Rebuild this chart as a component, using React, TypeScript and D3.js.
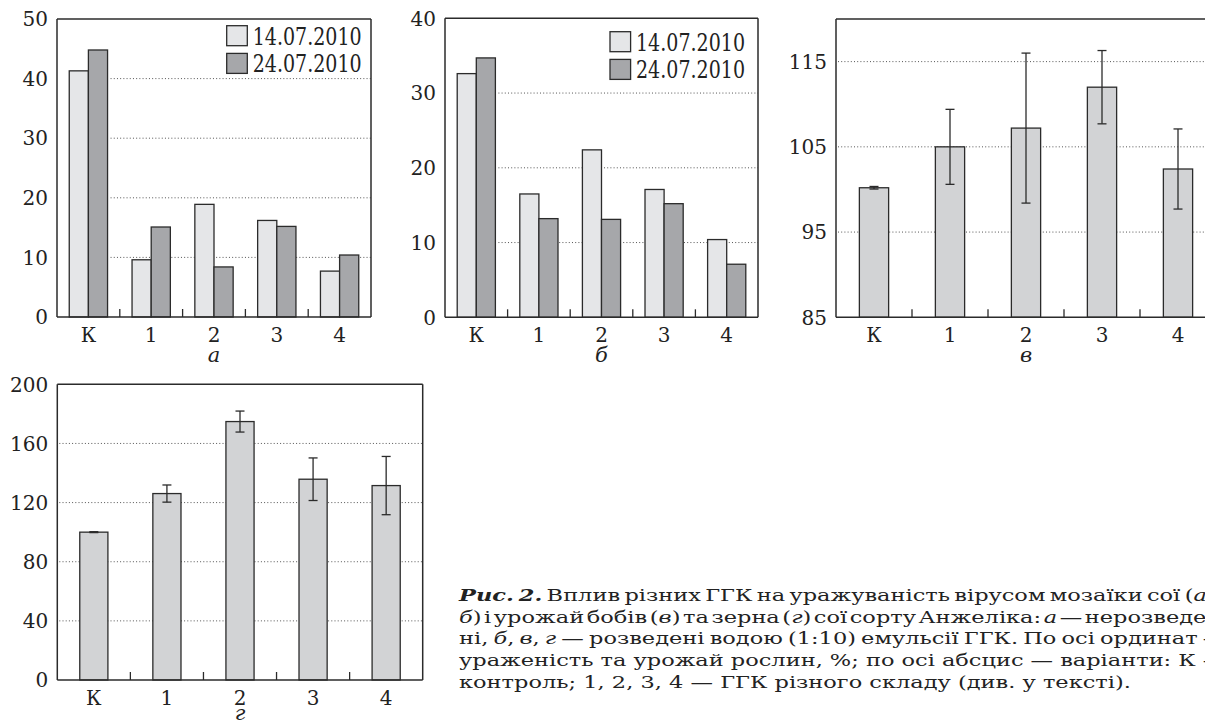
import React, { useLayoutEffect, useRef } from 'react';
import * as d3 from 'd3';

const categories = ['К', '1', '2', '3', '4'];
const legendLabels = ['14.07.2010', '24.07.2010'];

// panel а
const aFirst = [41.3, 9.6, 18.9, 16.2, 7.7];
const aSecond = [44.8, 15.1, 8.4, 15.2, 10.4];
const aTicks = [0, 10, 20, 30, 40, 50];
// panel б
const bFirst = [32.6, 16.5, 22.4, 17.1, 10.4];
const bSecond = [34.7, 13.2, 13.1, 15.2, 7.1];
const bTicks = [0, 10, 20, 30, 40];
// panel в
const vMean = [100.2, 105.0, 107.2, 112.0, 102.4];
const vErr = [0.15, 4.4, 8.8, 4.3, 4.7];
const vTicks = [85, 95, 105, 115];
// panel г
const gMean = [100, 126.1, 174.8, 135.8, 131.5];
const gErr = [0.3, 5.8, 7.1, 14.4, 19.7];
const gTicks = [0, 40, 80, 120, 160, 200];

const FONT = "'DejaVu Serif', serif";
const INK = '#2b2b2b';
const LIGHT = '#e5e6e8';
const DARK = '#a6a7aa';
const MID = '#d2d3d5';

type Seg = { t: string; i?: boolean; b?: boolean };
const captionLines: Seg[][] = [
  [{ t: 'Рис. 2.', i: true, b: true }, { t: ' Вплив різних ГГК на уражуваність вірусом мозаїки сої (' }, { t: 'а', i: true }, { t: ',' }],
  [{ t: 'б', i: true }, { t: ') і урожай бобів (' }, { t: 'в', i: true }, { t: ') та зерна (' }, { t: 'г', i: true }, { t: ') сої сорту Анжеліка: ' }, { t: 'а', i: true }, { t: ' — нерозведе-' }],
  [{ t: 'ні, ' }, { t: 'б', i: true }, { t: ', ' }, { t: 'в', i: true }, { t: ', ' }, { t: 'г', i: true }, { t: ' — розведені водою (1:10) емульсії ГГК. По осі ординат –' }],
  [{ t: 'ураженість та урожай рослин, %; по осі абсцис — варіанти: К –' }],
  [{ t: 'контроль; 1, 2, 3, 4 — ГГК різного складу (див. у тексті).' }],
];

function Frame({ x0, x1, y0, y1, openRight }: any) {
  return (
    <g fill="none" stroke={INK} strokeWidth={1.5}>
      <line x1={x0} y1={y0} x2={x0} y2={y1} />
      <line x1={x0} y1={y1} x2={x1} y2={y1} />
      <line x1={x0} y1={y0} x2={x1} y2={y0} />
      {!openRight && <line x1={x1} y1={y0} x2={x1} y2={y1} />}
    </g>
  );
}

function YAxis({ y, x0, ticks }: any) {
  return (
    <g fontFamily={FONT} fontSize={20} fill="#222" textAnchor="end">
      {ticks.map((t: number) => (
        <text key={t} x={x0 - 9} y={y(t)} dy="0.36em">{t}</text>
      ))}
    </g>
  );
}

function XAxis({ x, y1, label, labelDy }: any) {
  const bw = x.bandwidth();
  return (
    <g>
      {categories.slice(1).map((c) => (
        <line key={c} x1={x(c)} x2={x(c)} y1={y1} y2={y1 - 8} stroke={INK} strokeWidth={1.3} />
      ))}
      <g fontFamily={FONT} fontSize={20} fill="#222" textAnchor="middle">
        {categories.map((c) => (
          <text key={c} x={(x(c) as number) + bw / 2} y={y1 + 25}>{c}</text>
        ))}
      </g>
      <text x={(x(categories[2]) as number) + bw / 2} y={y1 + labelDy} fontFamily={FONT} fontStyle="italic" fontSize={21} textAnchor="middle" fill="#222">{label}</text>
    </g>
  );
}

function GroupedPanel({ x0, x1, y0, y1, domain, ticks, s1, s2, legendX, legendY, label }: any) {
  const x = d3.scaleBand<string>().domain(categories).range([x0, x1]);
  const y = d3.scaleLinear().domain(domain).range([y1, y0]);
  const bw = x.bandwidth() * 0.305;
  const cx = (c: string) => (x(c) as number) + x.bandwidth() / 2;
  const gridStart = cx('К') + bw + 3;
  const grid = ticks.filter((t: number) => t > domain[0] && t < domain[1]);
  return (
    <g>
      {grid.map((t: number) => (
        <line key={t} x1={gridStart} x2={x1} y1={y(t)} y2={y(t)} stroke="#555" strokeWidth={1} strokeDasharray="1 2.2" />
      ))}
      {categories.map((c, i) => (
        <g key={c} stroke={INK} strokeWidth={1.3}>
          <rect x={cx(c) - bw} y={y(s1[i])} width={bw} height={y1 - y(s1[i])} fill={LIGHT} />
          <rect x={cx(c)} y={y(s2[i])} width={bw} height={y1 - y(s2[i])} fill={DARK} />
        </g>
      ))}
      <Frame x0={x0} x1={x1} y0={y0} y1={y1} />
      <YAxis y={y} x0={x0} ticks={ticks} />
      <XAxis x={x} y1={y1} label={label} labelDy={45} />
      {legendLabels.map((l, i) => (
        <g key={l}>
          <rect x={legendX} y={legendY + i * 27.7} width={20.6} height={20} fill={i === 0 ? LIGHT : DARK} stroke={INK} strokeWidth={1.3} />
          <text x={legendX + 26} y={legendY + i * 27.7 + 19} fontFamily={FONT} fontSize={24} fill="#222" textLength={109} lengthAdjust="spacingAndGlyphs">{l}</text>
        </g>
      ))}
    </g>
  );
}

function ErrorPanel({ x0, x1, y0, y1, domain, ticks, mean, err, label, labelDy, openRight }: any) {
  const x = d3.scaleBand<string>().domain(categories).range([x0, x1]);
  const y = d3.scaleLinear().domain(domain).range([y1, y0]);
  const bw = x.bandwidth() * 0.385;
  const cx = (c: string) => (x(c) as number) + x.bandwidth() / 2;
  const grid = ticks.filter((t: number) => t > domain[0] && t < domain[1]);
  return (
    <g>
      {grid.map((t: number) => (
        <line key={t} x1={x0 + 2} x2={x1} y1={y(t)} y2={y(t)} stroke="#555" strokeWidth={1} strokeDasharray="1 2.2" />
      ))}
      {categories.map((c, i) => (
        <g key={c} stroke={INK} strokeWidth={1.3}>
          <rect x={cx(c) - bw / 2} y={y(mean[i])} width={bw} height={y1 - y(mean[i])} fill={MID} />
          <line x1={cx(c)} x2={cx(c)} y1={y(mean[i] + err[i])} y2={y(mean[i] - err[i])} />
          <line x1={cx(c) - 4.5} x2={cx(c) + 4.5} y1={y(mean[i] + err[i])} y2={y(mean[i] + err[i])} />
          <line x1={cx(c) - 4.5} x2={cx(c) + 4.5} y1={y(mean[i] - err[i])} y2={y(mean[i] - err[i])} />
        </g>
      ))}
      <Frame x0={x0} x1={x1} y0={y0} y1={y1} openRight={openRight} />
      <YAxis y={y} x0={x0} ticks={ticks} />
      <XAxis x={x} y1={y1} label={label} labelDy={labelDy} />
    </g>
  );
}

const CAP_X = 459;
const CAP_JUSTIFY = 755;
const CAP_LAST = 672;

function Caption() {
  const refs = useRef<(SVGTextElement | null)[]>([]);
  const gRef = useRef<SVGGElement | null>(null);
  useLayoutEffect(() => {
    const els = refs.current;
    els.forEach((el) => { if (el) el.style.wordSpacing = '0px'; });
    const last = els[els.length - 1];
    if (!last || !gRef.current) return;
    const sx = CAP_LAST / last.getComputedTextLength();
    gRef.current.setAttribute('transform', `translate(${CAP_X},0) scale(${sx},1)`);
    els.slice(0, -1).forEach((el) => {
      if (!el) return;
      const nat = el.getComputedTextLength();
      const spaces = (el.textContent || '').split(' ').length - 1;
      if (spaces > 0) el.style.wordSpacing = `${(CAP_JUSTIFY / sx - nat) / spaces}px`;
    });
  }, []);
  return (
    <g ref={gRef} transform={`translate(${CAP_X},0)`} fontFamily={FONT} fontSize={16} fill="#222">
      {captionLines.map((segs, li) => (
        <text key={li} ref={(el) => { refs.current[li] = el; }} x={0} y={601 + li * 21.7} xmlSpace="preserve">
          {segs.map((s, si) => (
            <tspan key={si} fontStyle={s.i ? 'italic' : 'normal'} fontWeight={s.b ? 'bold' : 'normal'}>{s.t}</tspan>
          ))}
        </text>
      ))}
    </g>
  );
}

export default function App() {
  return (
    <svg width={1205} height={724} style={{ position: 'absolute', left: 0, top: 0, background: '#fff' }}>
      <rect width={1205} height={724} fill="#fff" />
      <GroupedPanel x0={57} x1={371} y0={19} y1={317} domain={[0, 50]} ticks={aTicks} s1={aFirst} s2={aSecond} legendX={226.7} legendY={25.7} label="а" />
      <GroupedPanel x0={445} x1={758} y0={18.3} y1={317.3} domain={[0, 40]} ticks={bTicks} s1={bFirst} s2={bSecond} legendX={610} legendY={31.7} label="б" />
      <ErrorPanel x0={836} x1={1216} y0={19} y1={317.3} domain={[85, 120]} ticks={vTicks} mean={vMean} err={vErr} label="в" labelDy={45} openRight />
      <ErrorPanel x0={57.3} x1={422.7} y0={384.3} y1={680} domain={[0, 200]} ticks={gTicks} mean={gMean} err={gErr} label="г" labelDy={40} />
      <Caption />
    </svg>
  );
}
